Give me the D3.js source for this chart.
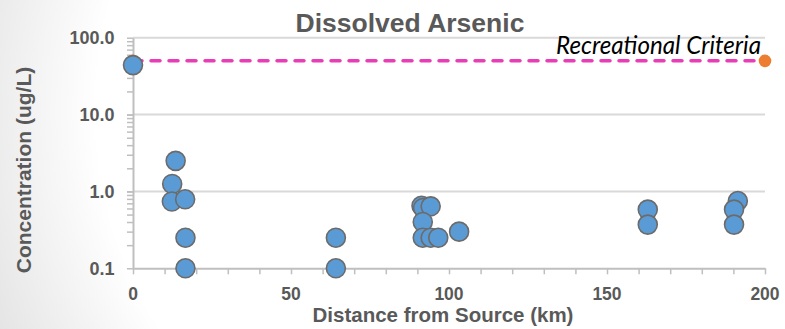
<!DOCTYPE html>
<html><head><meta charset="utf-8">
<script src="https://cdn.jsdelivr.net/npm/d3@7"></script>
<style>html,body{margin:0;padding:0;background:#fff;overflow:hidden}</style>
</head><body>
<svg id="c" width="785" height="329"></svg>
<script>
// ---- data ----
const distanceKm = [0, 13.5, 12.4, 12.3, 16.5, 16.6, 16.6, 64.2, 64.2, 91.3, 91.8, 94.2, 91.7, 91.7, 94.2, 96.6, 103.2, 162.9, 162.9, 191.4, 190.2, 190.2];
const arsenic    = [44, 2.5, 1.25, 0.74, 0.79, 0.25, 0.1, 0.25, 0.1, 0.65, 0.61, 0.64, 0.4, 0.25, 0.25, 0.25, 0.3, 0.58, 0.37, 0.75, 0.58, 0.37];
const criteriaKm = [0, 200];
const criteriaValue = [50, 50];
const yTicks = [0.1, 1, 10, 100];
const yTickLabels = ["0.1", "1.0", "10.0", "100.0"];
const xTicks = [0, 50, 100, 150, 200];
const title = "Dissolved Arsenic";
const xTitle = "Distance from Source (km)";
const yTitle = "Concentration (ug/L)";
const criteriaLabel = "Recreational Criteria";

const svg = d3.select("#c");
// background gradient
const defs = svg.append("defs");
const rg = defs.append("radialGradient").attr("id","bg").attr("gradientUnits","userSpaceOnUse")
  .attr("cx",500).attr("cy",110).attr("r",560);
rg.append("stop").attr("offset",0).attr("stop-color","#ffffff");
rg.append("stop").attr("offset",0.72).attr("stop-color","#ffffff");
rg.append("stop").attr("offset",1).attr("stop-color","#e2e2e2");
svg.append("rect").attr("width",785).attr("height",329).attr("fill","url(#bg)");

const x = d3.scaleLinear().domain([0,200]).range([133,765]);
const y = d3.scaleLog().domain([0.1,100]).range([268.3,37.7]);
const grey = "#595959";
const font = "'Liberation Sans', Arial, sans-serif";

// gridlines
svg.append("g").selectAll("line").data(yTicks.filter(d=>d>0.1)).join("line")
  .attr("x1",x(0)).attr("x2",x(200)).attr("y1",d=>y(d)).attr("y2",d=>y(d))
  .attr("stroke","#d9d9d9").attr("stroke-width",2);

// y axis with minor ticks
const minor = [];
for (let p=-1;p<2;p++) for (let m=1;m<=10;m++) minor.push(m*Math.pow(10,p));
const yAxis = d3.axisLeft(y).tickValues(minor.filter(v=>v>=0.1-1e-9 && v<=100+1e-9)).tickFormat("").tickSize(6).tickSizeOuter(0);
const gy = svg.append("g").attr("transform",`translate(${x(0)},0)`).call(yAxis);
gy.select(".domain").attr("stroke","#bfbfbf").attr("stroke-width",2);
gy.selectAll(".tick line").attr("stroke","#bfbfbf").attr("stroke-width",1.5);
svg.append("g").selectAll("text").data(yTicks).join("text")
  .attr("x",114.5).attr("y",d=>y(d)).attr("dy","0.36em").attr("text-anchor","end")
  .attr("font-family",font).attr("font-weight","bold").attr("font-size",18).attr("fill",grey)
  .text((d,i)=>yTickLabels[i]);

// x axis
const xAxis = d3.axisBottom(x).tickValues(d3.range(0,201,10)).tickFormat("").tickSize(6).tickSizeOuter(0);
const gx = svg.append("g").attr("transform",`translate(0,${y(0.1)})`).call(xAxis);
gx.select(".domain").attr("stroke","#bfbfbf").attr("stroke-width",2);
gx.selectAll(".tick line").attr("stroke","#bfbfbf").attr("stroke-width",1.5);
svg.append("g").selectAll("text").data(xTicks).join("text")
  .attr("x",d=>x(d)).attr("y",299.5).attr("text-anchor","middle")
  .attr("font-family",font).attr("font-weight","bold").attr("font-size",17.5).attr("fill",grey)
  .text(d=>d);

// criteria line
const line = d3.line().x(d=>x(d[0])).y(d=>y(d[1]));
const cdata = criteriaKm.map((k,i)=>[k,criteriaValue[i]]);
svg.append("path").datum(cdata).attr("d",line).attr("fill","none")
  .attr("stroke","#e83db6").attr("stroke-width",3.5).attr("stroke-dasharray","9,9").attr("stroke-linecap","round");
svg.append("g").selectAll("circle").data(cdata).join("circle")
  .attr("cx",d=>x(d[0])).attr("cy",d=>y(d[1])).attr("r",6.3).attr("fill","#ed7d31");

// data points
svg.append("g").selectAll("circle").data(distanceKm.map((k,i)=>[k,arsenic[i]])).join("circle")
  .attr("cx",d=>x(d[0])).attr("cy",d=>y(d[1])).attr("r",9.5)
  .attr("fill","#5b9bd5").attr("stroke","#6b6b6b").attr("stroke-width",1.6);

// criteria label
const cl = svg.append("text").attr("x",761).attr("y",54.3).attr("text-anchor","end")
  .attr("font-family","Lato, 'Open Sans', sans-serif").attr("font-style","italic").attr("font-size",20).attr("fill","#000")
  .text(criteriaLabel);
const w = cl.node().getComputedTextLength();
cl.attr("font-size", 20*205/w);

// titles
svg.append("text").attr("x",410).attr("y",31.5).attr("text-anchor","middle")
  .attr("font-family",font).attr("font-weight","bold").attr("font-size",26.5).attr("fill",grey).text(title);
svg.append("text").attr("x",443).attr("y",322).attr("text-anchor","middle")
  .attr("font-family",font).attr("font-weight","bold").attr("font-size",20.5).attr("fill",grey).text(xTitle);
svg.append("text").attr("transform","translate(31,170) rotate(-90)").attr("text-anchor","middle")
  .attr("font-family",font).attr("font-weight","bold").attr("font-size",21).attr("fill",grey).text(yTitle);
</script>
</body></html>
